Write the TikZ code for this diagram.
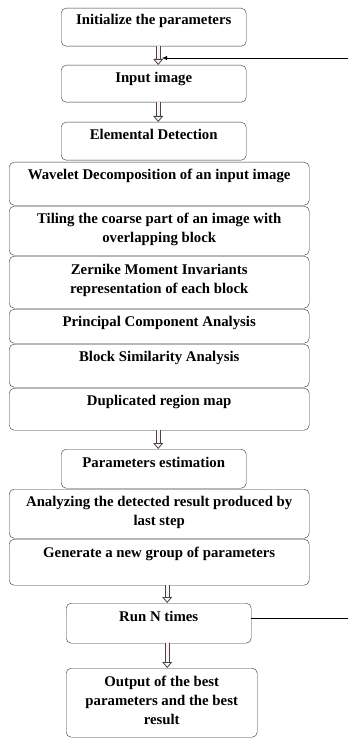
\documentclass[tikz,border=0pt]{standalone}
\usepackage{fontspec}
\setmainfont{Liberation Serif}
\usetikzlibrary{arrows.meta}
\usetikzlibrary{positioning}

\tikzset{
    stepbox/.style={
        rectangle, anchor=north west, rounded corners=5pt,
        draw=black!80, thin, fill=white,
    },
    steptext/.style={
        anchor=north, inner sep=0pt, align=center,
        font=\bfseries\fontsize{14.8}{18.8}\selectfont,
    },
    hollow/.style={
        draw=gray!55!black, line width=5.4pt, shorten >=4.5pt,
        postaction={draw=red!5, line width=3.2pt, shorten >=4pt},
        postaction={draw=red!5, line width=0.8pt, shorten >=0pt,
            -{Triangle[length=6pt, width=10pt, color=gray!55!black, fill=red!5]}},
    },
}

\begin{document}
\begin{tikzpicture}[x=1pt, y=-1pt]
        \useasboundingbox (0,0) rectangle (348,738);

        % narrow boxes
        \node (init) at(61,8) [stepbox, minimum width=185pt, minimum height=38pt] {};
        \node (input) at(61,65) [stepbox, minimum width=185pt, minimum height=37pt] {};
        \node (elem) at(61,122) [stepbox, minimum width=185pt, minimum height=38pt] {};

        % wide boxes, stacked
        \node (wave) at(9,162) [stepbox, minimum width=300pt, minimum height=43pt] {};
        \node (tile) at(9,206) [stepbox, minimum width=300pt, minimum height=49pt] {};
        \node (zern) at(9,256) [stepbox, minimum width=300pt, minimum height=52pt] {};
        \node (pca) at(9,309) [stepbox, minimum width=300pt, minimum height=34pt] {};
        \node (simil) at(9,344) [stepbox, minimum width=300pt, minimum height=43pt] {};
        \node (dupmap) at(9,388) [stepbox, minimum width=300pt, minimum height=42pt] {};

        \node (estim) at(61,449) [stepbox, minimum width=185pt, minimum height=39pt] {};
        \node (analyze) at(9,489) [stepbox, minimum width=300pt, minimum height=49pt] {};
        \node (newgroup) at(9,539) [stepbox, minimum width=300pt, minimum height=46pt] {};

        \node (runN) at(66,603) [stepbox, minimum width=185pt, minimum height=40pt] {};
        \node (best) at(66,668) [stepbox, minimum width=191pt, minimum height=69pt] {};

        % texts
        \node (initT) at([yshift=-6pt]init.north) [steptext] {Initialize the parameters};
        \node (inputT) at([yshift=-7pt]input.north) [steptext] {Input image};
        \node (elemT) at([yshift=-7pt]elem.north) [steptext] {Elemental Detection};
        \node (waveT) at([yshift=-7pt]wave.north) [steptext] {Wavelet Decomposition of an input image};
        \node (tileT) at([yshift=-7pt]tile.north) [steptext] {Tiling the coarse part of an image with\\overlapping block};
        \node (zernT) at([yshift=-8pt]zern.north) [steptext] {Zernike Moment Invariants\\representation of each block};
        \node (pcaT) at([yshift=-7pt]pca.north) [steptext] {Principal Component Analysis};
        \node (similT) at([yshift=-7pt]simil.north) [steptext] {Block Similarity Analysis};
        \node (dupmapT) at([yshift=-7pt]dupmap.north) [steptext] {Duplicated region map};
        \node (estimT) at([yshift=-8pt]estim.north) [steptext] {Parameters estimation};
        \node (analyzeT) at([yshift=-7pt]analyze.north) [steptext] {Analyzing the detected result produced by\\last step};
        \node (newgroupT) at([yshift=-8pt]newgroup.north) [steptext] {Generate a new group of parameters};
        \node (runNT) at([yshift=-8pt]runN.north) [steptext] {Run N times};
        \node (bestT) at([yshift=-8pt]best.north) [steptext] {Output of the best\\parameters and the best\\result};

        % flow arrows
        \draw[hollow] ([xshift=4.5pt]init.south) -- ([xshift=4.5pt]input.north);
        \draw[hollow] ([xshift=4.5pt]input.south) -- ([xshift=4.5pt]elem.north);
        \draw[hollow] ([xshift=-1pt]dupmap.south) -- ([xshift=4.5pt]estim.north);
        \draw[hollow] ([xshift=8pt]newgroup.south) -- ([xshift=8.5pt]runN.north);
        \draw[hollow] ([xshift=8.5pt]runN.south) -- ([xshift=5.5pt]best.north);

        % loop back
        \coordinate (loopR) at(348,618);
        \coordinate (loopT) at(348,58);
        \coordinate (loopIn) at(162,58);
        \draw[thin] (loopR -| runN.east) -- (loopR);
        \draw[thin, -{Latex[length=5pt, width=4pt]}] (loopT) -- (loopIn);
    \end{tikzpicture}
\end{document}
